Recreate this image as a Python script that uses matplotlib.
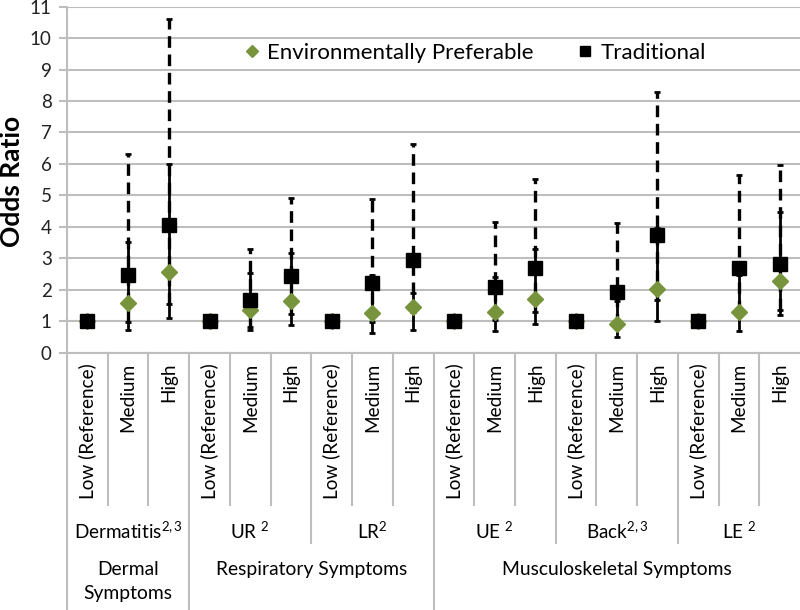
import matplotlib
matplotlib.use('Agg')
import matplotlib.pyplot as plt
import matplotlib.transforms as mtransforms
import numpy as np

plt.rcParams['font.family'] = ['Lato', 'DejaVu Sans']
plt.rcParams['mathtext.fontset'] = 'custom'
plt.rcParams['mathtext.rm'] = 'Lato'
plt.rcParams['mathtext.it'] = 'Lato:italic'
plt.rcParams['mathtext.bf'] = 'Lato:bold'

# Categories
levels = ['Low (Reference)', 'Medium', 'High']
outcomes = ['Dermatitis$^{\\mathrm{2,3}}$', 'UR $^{2}$', 'LR$^{2}$', 'UE $^{2}$', 'Back$^{\\mathrm{2,3}}$', 'LE $^{2}$']
groups = ['Dermal\nSymptoms', 'Respiratory Symptoms', 'Musculoskeletal Symptoms']
group_sizes = [1, 2, 3]  # outcomes per group

# Environmentally preferable: odds ratio and CI
env_or = [1, 1.56, 2.57, 1, 1.35, 1.64, 1, 1.25, 1.44, 1, 1.30, 1.71, 1, 0.90, 2.01, 1, 1.30, 2.27]
env_lo = [1, 0.70, 1.10, 1, 0.72, 0.87, 1, 0.63, 0.70, 1, 0.69, 0.91, 1, 0.50, 1.00, 1, 0.69, 1.19]
env_hi = [1, 3.50, 6.00, 1, 2.52, 3.15, 1, 2.47, 1.90, 1, 2.39, 3.28, 1, 1.65, 3.95, 1, 2.45, 4.48]

# Traditional: odds ratio and CI
trad_or = [1, 2.46, 4.07, 1, 1.67, 2.43, 1, 2.20, 2.94, 1, 2.07, 2.68, 1, 1.92, 3.73, 1, 2.70, 2.81]
trad_lo = [1, 0.97, 1.55, 1, 0.82, 1.22, 1, 0.98, 1.30, 1, 1.03, 1.30, 1, 0.88, 1.67, 1, 1.29, 1.35]
trad_hi = [1, 6.30, 10.60, 1, 3.28, 4.90, 1, 4.87, 6.63, 1, 4.16, 5.51, 1, 4.13, 8.30, 1, 5.65, 5.98]

green = '#77933C'
grey = '#BEBEBE'

n = len(env_or)
x = np.arange(n)

fig = plt.figure(figsize=(8, 6.1), dpi=100)
ax = fig.add_axes([67/800, (610-352.5)/610, 733/800, 345.8/610])

ax.set_ylim(0, 11)
ax.set_xlim(-0.5, n - 0.5)
ax.set_yticks(range(0, 12))
ax.yaxis.grid(True, color=grey, linewidth=1.5)
ax.set_axisbelow(True)
for s in ['top', 'right']:
    ax.spines[s].set_visible(False)
ax.spines['left'].set_color(grey)
ax.spines['left'].set_linewidth(1.5)
ax.spines['bottom'].set_color(grey)
ax.spines['bottom'].set_linewidth(1.5)
ax.set_xticks([])
ax.tick_params(axis='y', colors=grey, labelcolor='#222222', labelsize=13.5, length=6, width=1.5, pad=5)

# error bars (env solid, trad dashed)
e_env = ax.errorbar(x, env_or, yerr=[np.array(env_or) - np.array(env_lo), np.array(env_hi) - np.array(env_or)],
                    fmt='none', ecolor='black', elinewidth=2, capsize=2.5, capthick=2, zorder=3)
e_trad = ax.errorbar(x, trad_or, yerr=[np.array(trad_or) - np.array(trad_lo), np.array(trad_hi) - np.array(trad_or)],
                     fmt='none', ecolor='black', elinewidth=2.4, capsize=2.5, capthick=2, zorder=3)
e_trad[2][0].set_linestyle((0, (3.5, 2)))

ax.plot(x, env_or, linestyle='none', marker='D', markersize=8, color=green, zorder=4,
        label='Environmentally Preferable')
ax.plot(x, trad_or, linestyle='none', marker='s', markersize=9.5, color='black', zorder=5,
        label='Traditional')

ax.legend(loc='center', bbox_to_anchor=(0.557, 0.866), ncol=2, frameon=False, fontsize=16,
          markerscale=0.75, handlelength=0.6, handletextpad=0.4, columnspacing=2.0)

fig.text(12/800, 1 - 181/610, 'Odds Ratio', rotation=90, ha='center', va='center',
         fontsize=19, fontweight='bold')

# category axis labels below the plot
trans = mtransforms.blended_transform_factory(ax.transData, ax.transAxes)
def yfrac(py):
    return (352.5 - py) / 345.8

for i in range(n):
    ax.text(i, yfrac(363), levels[i % 3], rotation=90, ha='center', va='top',
            fontsize=13.7, transform=trans, clip_on=False)

for k, name in enumerate(outcomes):
    ax.text(3 * k + 1, yfrac(531), name, ha='center', va='center', fontsize=13.6,
            transform=trans, clip_on=False)

start = 0
for g, size in zip(groups, group_sizes):
    center = (start * 3 + (start + size) * 3 - 1) / 2
    ax.text(center, yfrac(561), g, ha='center', va='top', fontsize=13.9,
            transform=trans, clip_on=False, linespacing=1.5)
    start += size

# separators
group_edges = [0]
for size in group_sizes:
    group_edges.append(group_edges[-1] + size * 3)
for b in range(0, n):
    if b in group_edges:
        bottom = yfrac(610)
    elif b % 3 == 0:
        bottom = yfrac(543)
    else:
        bottom = yfrac(505)
    ax.plot([b - 0.5, b - 0.5], [0, bottom], color=grey, linewidth=1.5,
            transform=trans, clip_on=False)

fig.savefig('out.png', dpi=100)
